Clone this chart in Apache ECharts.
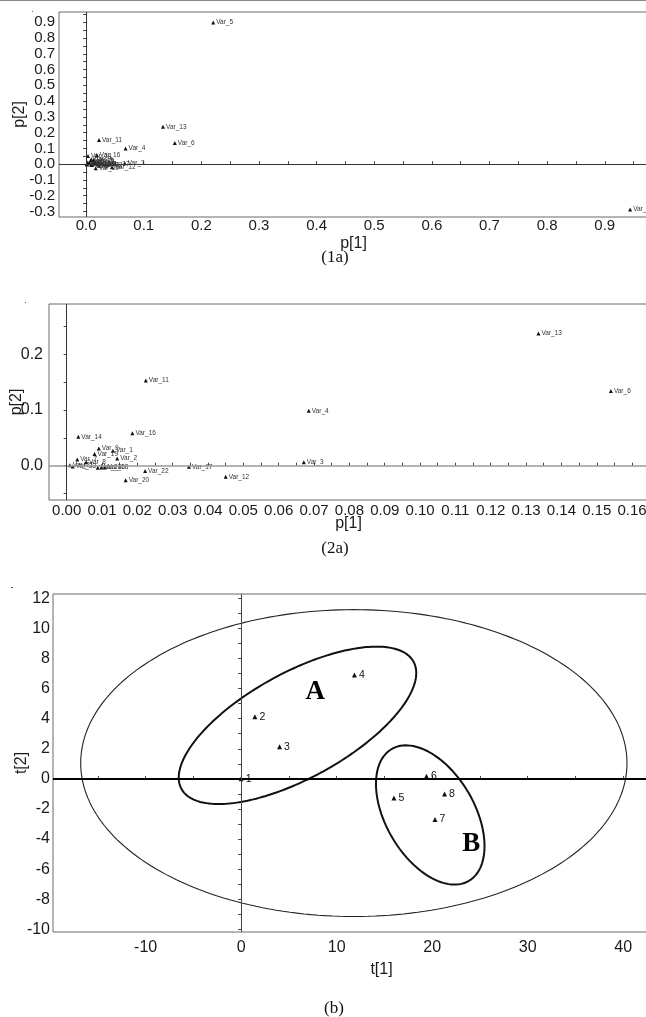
<!DOCTYPE html>
<html>
<head>
<meta charset="utf-8">
<script src="https://cdn.jsdelivr.net/npm/echarts@6/dist/echarts.min.js"></script>
<style>
  html, body { margin: 0; padding: 0; background: #fff; }
  #chart { width: 646px; height: 1017px; }
</style>
</head>
<body>
<div id="chart"></div>
<script>
// loadings p[1] / p[2] for each variable
const varNames = ['Var_1', 'Var_2', 'Var_3', 'Var_4', 'Var_5', 'Var_6', 'Var_7', 'Var_8', 'Var_9', 'Var_10',
  'Var_11', 'Var_12', 'Var_13', 'Var_14', 'Var_15', 'Var_16', 'Var_17', 'Var_18', 'Var_19', 'Var_20',
  'Var_21', 'Var_22', 'Var_23', 'Var_24']
const p1 = [0.0131, 0.0143, 0.0671, 0.0685, 0.2205, 0.154, 0.0030, 0.0055, 0.0091, 0.0098,
  0.0224, 0.045, 0.1335, 0.0033, 0.944, 0.0186, 0.0346, 0.0108, 0.0079, 0.0167,
  0.0009, 0.0222, 0.0017, 0.0088]
const p2 = [0.027, 0.013, 0.006, 0.0986, 0.898, 0.134, 0.011, 0.006, 0.031, -0.003,
  0.153, -0.020, 0.237, 0.052, -0.287, 0.058, -0.002, -0.003, 0.021, -0.026,
  0.001, -0.0095, -0.0015, -0.0035]

// scores t[1] / t[2] for each sample
const obsNames = ['1', '2', '3', '4', '5', '6', '7', '8']
const t1 = [0, 1.44, 4.02, 11.86, 16.0, 19.4, 20.3, 21.3]
const t2 = [0, 4.13, 2.13, 6.9, -1.28, 0.18, -2.7, -1.0]

// ellipses: [centre t1, centre t2, semi-axis a, semi-axis b, angle deg]
const ellipseT2 = [11.8, 1.05, 28.6, 10.2, 0]
const ellipseA = [5.9, 3.56, 12.96, 3.75, 17.1]
const ellipseB = [19.8, -2.4, 6.31, 3.73, -32.6]

// group annotations
const groupNames = ['A', 'B']
const groupT1 = [7.77, 24.1]
const groupT2 = [5.79, -4.36]

// tick labels
const xLabels1 = [0, 0.1, 0.2, 0.3, 0.4, 0.5, 0.6, 0.7, 0.8, 0.9]
const yLabels1 = [-0.3, -0.2, -0.1, 0, 0.1, 0.2, 0.3, 0.4, 0.5, 0.6, 0.7, 0.8, 0.9]
const xLabels2 = [0, 0.01, 0.02, 0.03, 0.04, 0.05, 0.06, 0.07, 0.08, 0.09, 0.1, 0.11, 0.12, 0.13, 0.14, 0.15, 0.16]
const yLabels2 = [0, 0.1, 0.2]
const xLabels3 = [-10, 0, 10, 20, 30, 40]
const yLabels3 = [-10, -8, -6, -4, -2, 0, 2, 4, 6, 8, 10, 12]

const SANS = '"Liberation Sans", Arial, sans-serif'
const SERIF = '"Liberation Serif", "Times New Roman", serif'

const steps = (from, to, step) => {
  const out = []
  for (let v = from; v <= to + step / 2; v += step) {
    out.push(Math.round(v * 1e6) / 1e6)
  }
  return out
}

const ellipsePoints = ([cx, cy, a, b, deg]) => {
  const r = deg * Math.PI / 180
  const pts = []
  for (let i = 0; i <= 240; i++) {
    const t = i / 240 * 2 * Math.PI
    const u = a * Math.cos(t)
    const v = b * Math.sin(t)
    pts.push([cx + u * Math.cos(r) - v * Math.sin(r), cy + u * Math.sin(r) + v * Math.cos(r)])
  }
  return pts
}

const grids = [
  { left: 59, top: 12, right: -2, height: 205 },
  { left: 49, top: 304, right: -2, height: 196 },
  { left: 53, top: 594, right: -2, height: 338 }
].map((g) => ({
  ...g,
  show: true,
  borderColor: '#6b6b6b',
  borderWidth: 1,
  backgroundColor: 'transparent',
  containLabel: false,
  outerBoundsMode: 'none'
}))

const axis = ({ grid, min, max, ticks, labels, digits, inside, margin, name, nameGap, fontSize = 15, namePadding }) => ({
  type: 'value',
  gridIndex: grid,
  min,
  max,
  splitLine: { show: false },
  axisLine: { show: false },
  axisTick: {
    show: true,
    inside,
    length: 3,
    customValues: ticks,
    lineStyle: { color: '#444' }
  },
  axisLabel: {
    customValues: labels,
    formatter: (v) => v.toFixed(digits),
    fontFamily: SANS,
    fontSize,
    color: '#1a1a1a',
    margin,
    showMinLabel: true,
    showMaxLabel: true,
    hideOverlap: false
  },
  name,
  nameLocation: 'middle',
  nameGap,
  nameMoveOverlap: false,
  nameTextStyle: {
    fontFamily: SANS,
    fontSize: 16,
    color: '#1a1a1a',
    padding: namePadding || 0
  }
})

const loadings = varNames.map((name, i) => ({ name, value: [p1[i], p2[i]] }))

const pointLabel = (size) => ({
  show: true,
  position: 'right',
  distance: 1,
  formatter: '{b}',
  fontFamily: SANS,
  fontSize: size,
  color: '#333'
})

const zeroLines = (hColor, hWidth, vColor, vWidth) => ({
  silent: true,
  symbol: ['none', 'none'],
  label: { show: false },
  emphasis: { disabled: true },
  data: [
    { yAxis: 0, lineStyle: { color: hColor, width: hWidth, type: 'solid' } },
    { xAxis: 0, lineStyle: { color: vColor, width: vWidth, type: 'solid' } }
  ]
})

const xAxes = [
  axis({ grid: 0, min: -0.047, max: 0.975, ticks: steps(0, 0.95, 0.05), labels: xLabels1, digits: 1, inside: true, margin: 1, name: 'p[1]', nameGap: 19 }),
  axis({ grid: 1, min: -0.005, max: 0.1645, ticks: steps(0, 0.16, 0.005), labels: xLabels2, digits: 2, inside: true, margin: 3, name: 'p[1]', nameGap: 16 }),
  axis({ grid: 2, min: -19.7, max: 42.6, ticks: steps(-15, 40, 5), labels: xLabels3, digits: 0, inside: true, margin: 8, name: 't[1]', nameGap: 30, fontSize: 16, namePadding: [0, 0, 0, 62] })
]
const yAxes = [
  axis({ grid: 0, min: -0.335, max: 0.965, ticks: steps(-0.3, 0.95, 0.05), labels: yLabels1, digits: 1, inside: false, margin: 4, name: 'p[2]', nameGap: 31 }),
  axis({ grid: 1, min: -0.0615, max: 0.29, ticks: steps(-0.05, 0.25, 0.05), labels: yLabels2, digits: 1, inside: false, margin: 6, name: 'p[2]', nameGap: 24, fontSize: 16 }),
  axis({ grid: 2, min: -10.18, max: 12.29, ticks: steps(-10, 12, 1), labels: yLabels3, digits: 0, inside: false, margin: 3, name: 't[2]', nameGap: 23, fontSize: 16 })
]

const inRange2 = loadings.filter((d) => d.value[0] >= xAxes[1].min && d.value[0] <= xAxes[1].max &&
  d.value[1] >= yAxes[1].min && d.value[1] <= yAxes[1].max)

const ellipseSeries = (params, width, color) => ({
  type: 'line',
  xAxisIndex: 2,
  yAxisIndex: 2,
  data: ellipsePoints(params),
  showSymbol: false,
  symbol: 'none',
  smooth: false,
  silent: true,
  lineStyle: { color, width }
})

const chart = echarts.init(document.getElementById('chart'), null, { renderer: 'canvas' })

chart.setOption({
  animation: false,
  backgroundColor: '#fff',
  grid: grids,
  xAxis: xAxes,
  yAxis: yAxes,
  series: [
    {
      type: 'scatter',
      xAxisIndex: 0,
      yAxisIndex: 0,
      data: loadings,
      symbol: 'triangle',
      symbolSize: 4,
      itemStyle: { color: '#111', opacity: 1 },
      label: pointLabel(6.5),
      markLine: zeroLines('#333', 1, '#333', 1)
    },
    {
      type: 'scatter',
      xAxisIndex: 1,
      yAxisIndex: 1,
      data: inRange2,
      symbol: 'triangle',
      symbolSize: 4,
      itemStyle: { color: '#111', opacity: 1 },
      label: pointLabel(6.5),
      markLine: zeroLines('#9a9a9a', 1.5, '#333', 1)
    },
    ellipseSeries(ellipseT2, 1.1, '#222'),
    ellipseSeries(ellipseA, 2, '#111'),
    ellipseSeries(ellipseB, 2, '#111'),
    {
      type: 'scatter',
      xAxisIndex: 2,
      yAxisIndex: 2,
      data: obsNames.map((name, i) => ({ name, value: [t1[i], t2[i]] })),
      symbol: 'triangle',
      symbolSize: 5,
      itemStyle: { color: '#111', opacity: 1 },
      label: { ...pointLabel(10.5), distance: 2, color: '#111' },
      markLine: zeroLines('#000', 2, '#444', 1)
    },
    {
      type: 'scatter',
      xAxisIndex: 2,
      yAxisIndex: 2,
      data: groupNames.map((name, i) => ({ name, value: [groupT1[i], groupT2[i]] })),
      symbolSize: 0,
      silent: true,
      itemStyle: { opacity: 1 },
      label: {
        show: true,
        position: 'inside',
        formatter: '{b}',
        fontFamily: SERIF,
        fontWeight: 'bold',
        fontSize: 27,
        color: '#000',
        textBorderWidth: 0,
        opacity: 1
      }
    }
  ],
  graphic: [
    { type: 'line', shape: { x1: 0, y1: 0.5, x2: 646, y2: 0.5 }, style: { stroke: '#8a8a8a', lineWidth: 1 } },
    { type: 'rect', shape: { x: 32, y: 11, width: 1, height: 1 }, style: { fill: '#555' } },
    { type: 'rect', shape: { x: 25, y: 302, width: 1, height: 1 }, style: { fill: '#555' } },
    { type: 'rect', shape: { x: 11, y: 587, width: 2, height: 1 }, style: { fill: '#555' } },
    { type: 'text', x: 335, y: 258, style: { text: '(1a)', font: '17px ' + SERIF, fill: '#111', textAlign: 'center', textVerticalAlign: 'middle' } },
    { type: 'text', x: 335, y: 549, style: { text: '(2a)', font: '17px ' + SERIF, fill: '#111', textAlign: 'center', textVerticalAlign: 'middle' } },
    { type: 'text', x: 334, y: 1009, style: { text: '(b)', font: '17px ' + SERIF, fill: '#111', textAlign: 'center', textVerticalAlign: 'middle' } }
  ]
})
</script>
</body>
</html>
